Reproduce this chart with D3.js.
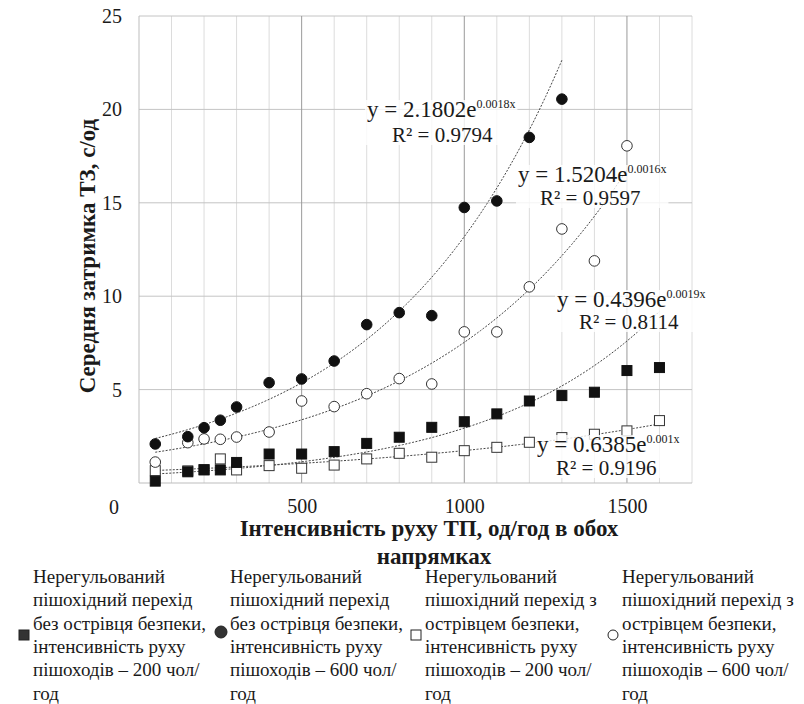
<!DOCTYPE html>
<html>
<head>
<meta charset="utf-8">
<script src="https://cdn.jsdelivr.net/npm/d3@7"></script>
<style>
  body { margin: 0; background: #fff; }
</style>
</head>
<body>
<svg width="804" height="704"></svg>
<script>
// data
const xVals = [50, 150, 200, 250, 300, 400, 500, 600, 700, 800, 900, 1000, 1100, 1200, 1300, 1400, 1500, 1600];
const sq200NoIsland = [0.1, 0.6, 0.7, 0.7, 1.1, 1.55, 1.55, 1.68, 2.12, 2.45, 2.98, 3.28, 3.7, 4.39, 4.68, 4.86, 6.02, 6.18];
const sq200Island = [0.66, 0.65, 0.72, 1.29, 0.7, 0.93, 0.79, 0.96, 1.29, 1.59, 1.38, 1.73, 1.91, 2.18, 2.43, 2.61, 2.79, 3.34];
const circ600NoIsland = [2.09, 2.48, 2.96, 3.36, 4.07, 5.37, 5.57, 6.53, 8.48, 9.12, 8.96, 14.75, 15.1, 18.5, 20.55];
const circ600Island = [1.12, 2.16, 2.36, 2.34, 2.46, 2.73, 4.39, 4.09, 4.78, 5.59, 5.3, 8.09, 8.09, 10.5, 13.6, 11.89, 18.05];

// exponential trend lines y = a*e^(b*x), as printed on the chart
const trendA = [0.4396, 0.6385, 2.1802, 1.5204];
const trendB = [0.0019, 0.001, 0.0018, 0.0016];
const trendEnd = [1600, 1600, 1300, 1500];
const trendR2 = ["0.8114", "0.9196", "0.9794", "0.9597"];

const xTicks = [500, 1000, 1500];
const yTicks = [5, 10, 15, 20, 25];

const legendLines = [
    ["Нерегульований", "пішохідний перехід", "без острівця безпеки,", "інтенсивність руху", "пішоходів – 200 чол/", "год"],
    ["Нерегульований", "пішохідний перехід", "без острівця безпеки,", "інтенсивність руху", "пішоходів – 600 чол/", "год"],
    ["Нерегульований", "пішохідний перехід з", "острівцем безпеки,", "інтенсивність руху", "пішоходів – 200 чол/", "год"],
    ["Нерегульований", "пішохідний перехід з", "острівцем безпеки,", "інтенсивність руху", "пішоходів – 600 чол/", "год"]
];

const serif = "Liberation Serif";
let svg = d3.select("svg").attr("font-family", serif);

const plotL = 139, plotR = 692, plotT = 16, plotB = 483;
let x = d3.scaleLinear().domain([0, 1700]).range([plotL, plotR]);
let y = d3.scaleLinear().domain([0, 25]).range([plotB, plotT]);

function addText(sel, size, weight) {
    return sel.append("text")
        .attr("font-family", serif)
        .attr("font-size", size)
        .attr("font-weight", weight || "normal")
        .attr("fill", "#1a1a1a");
}

// grid
let grid = svg.append("g");
grid.selectAll("line.minor")
    .data(d3.range(100, 1701, 100).filter(d => d % 500 != 0))
    .enter().append("line")
    .attr("x1", d => x(d)).attr("x2", d => x(d))
    .attr("y1", plotT).attr("y2", plotB)
    .style("stroke", "#dcdcdc").style("stroke-width", 1);
grid.selectAll("line.hor")
    .data(yTicks)
    .enter().append("line")
    .attr("x1", plotL).attr("x2", plotR)
    .attr("y1", d => y(d)).attr("y2", d => y(d))
    .style("stroke", "#c4c4c4").style("stroke-width", 1);
grid.selectAll("line.major")
    .data(xTicks)
    .enter().append("line")
    .attr("x1", d => x(d)).attr("x2", d => x(d))
    .attr("y1", plotT).attr("y2", plotB)
    .style("stroke", "#9a9a9a").style("stroke-width", 1);
grid.append("line")
    .attr("x1", plotL).attr("x2", plotL).attr("y1", plotT).attr("y2", plotB)
    .style("stroke", "#bdbdbd");
grid.append("line")
    .attr("x1", plotL).attr("x2", plotR).attr("y1", plotB).attr("y2", plotB)
    .style("stroke", "#bdbdbd");

// axes (labels only)
let yAxis = svg.append("g")
    .attr("transform", `translate(${plotL},0)`)
    .call(d3.axisLeft(y).tickValues(yTicks).tickSize(0).tickPadding(17).tickFormat(d3.format("d")));
let xAxis = svg.append("g")
    .attr("transform", `translate(0,${plotB})`)
    .call(d3.axisBottom(x).tickValues(xTicks).tickSize(0).tickPadding(16).tickFormat(d3.format("d")));
[yAxis, xAxis].forEach(a => {
    a.attr("font-family", serif).attr("font-size", 20);
    a.select(".domain").remove();
    a.selectAll("text").attr("font-family", serif).attr("fill", "#1a1a1a");
});
addText(svg, 20)
    .attr("x", 119).attr("y", 514)
    .attr("text-anchor", "end")
    .text("0");

// trend lines
let line = d3.line().x(d => x(d[0])).y(d => y(d[1]));
trendA.forEach((a, i) => {
    let pts = d3.range(50, trendEnd[i] + 1, 10).map(t => [t, a * Math.exp(trendB[i] * t)]);
    svg.append("path")
        .attr("d", line(pts))
        .style("fill", "none")
        .style("stroke", "#444")
        .style("stroke-width", 1)
        .style("stroke-dasharray", "2,1.5");
});

// markers
function drawSquares(vals, filled) {
    svg.append("g").selectAll("rect")
        .data(vals)
        .enter().append("rect")
        .attr("x", (d, i) => x(xVals[i]) - 5)
        .attr("y", d => y(d) - 5)
        .attr("width", 10).attr("height", 10)
        .style("fill", filled ? "#111" : "#fff")
        .style("stroke", filled ? "#111" : "#333")
        .style("stroke-width", 1);
}
function drawCircles(vals, filled) {
    svg.append("g").selectAll("circle")
        .data(vals)
        .enter().append("circle")
        .attr("cx", (d, i) => x(xVals[i]))
        .attr("cy", d => y(d))
        .attr("r", 5.3)
        .style("fill", filled ? "#111" : "#fff")
        .style("stroke", filled ? "#111" : "#333")
        .style("stroke-width", 1);
}
drawSquares(sq200Island, false);
drawSquares(sq200NoIsland, true);
drawCircles(circ600Island, false);
drawCircles(circ600NoIsland, true);

// equation labels
const labelPos = [
    [557, 300, 579, 322],
    [537, 445, 556, 468],
    [367, 110, 392, 135],
    [518, 175, 540, 198]
];
trendA.forEach((a, i) => {
    let p = labelPos[i];
    let g = svg.append("g");
    let t1 = addText(g, 23).attr("x", p[0]).attr("y", p[1] + 7);
    t1.append("tspan").text(`y = ${a}e`);
    t1.append("tspan").attr("dy", -9).attr("font-size", 12).text(`${trendB[i]}x`);
    let t2 = addText(g, 21).attr("x", p[2]).attr("y", p[3] + 7)
        .text(`R² = ${trendR2[i]}`);
    let b1 = t1.node().getBBox(), b2 = t2.node().getBBox();
    let x0 = Math.min(b1.x, b2.x) - 2, y0 = b1.y + 3;
    let x1 = Math.max(b1.x + b1.width, b2.x + b2.width) + 2, y1 = b2.y + b2.height - 2;
    g.insert("rect", "text")
        .attr("x", x0).attr("y", y0)
        .attr("width", x1 - x0).attr("height", y1 - y0)
        .style("fill", "#fff").style("opacity", 0.8);
});

// axis titles
addText(svg, 23, "bold")
    .attr("transform", "translate(95,256) rotate(-90)")
    .attr("text-anchor", "middle")
    .text("Середня затримка ТЗ, с/од");
addText(svg, 23, "bold")
    .attr("x", 429).attr("y", 536)
    .attr("text-anchor", "middle")
    .text("Інтенсивність руху ТП, од/год в обох");
addText(svg, 23, "bold")
    .attr("x", 434).attr("y", 564)
    .attr("text-anchor", "middle")
    .text("напрямках");

// legend
const legendX = [33, 230, 425, 622];
legendLines.forEach((lines, i) => {
    let g = svg.append("g");
    lines.forEach((s, j) => {
        addText(g, 19)
            .attr("x", legendX[i]).attr("y", 583 + j * 23.3)
            .text(s);
    });
    let sx = legendX[i] - 9, sy = 635;
    if (i == 0) {
        g.append("rect").attr("x", sx - 5).attr("y", sy - 5).attr("width", 10).attr("height", 10)
            .style("fill", "#333").style("stroke", "#222");
    } else if (i == 1) {
        g.append("circle").attr("cx", sx).attr("cy", sy - 3).attr("r", 6)
            .style("fill", "#333").style("stroke", "#222");
    } else if (i == 2) {
        g.append("rect").attr("x", sx - 5).attr("y", sy - 5).attr("width", 10).attr("height", 10)
            .style("fill", "#fff").style("stroke", "#222");
    } else {
        g.append("circle").attr("cx", sx).attr("cy", sy).attr("r", 5)
            .style("fill", "#fff").style("stroke", "#222");
    }
});
</script>
</body>
</html>
